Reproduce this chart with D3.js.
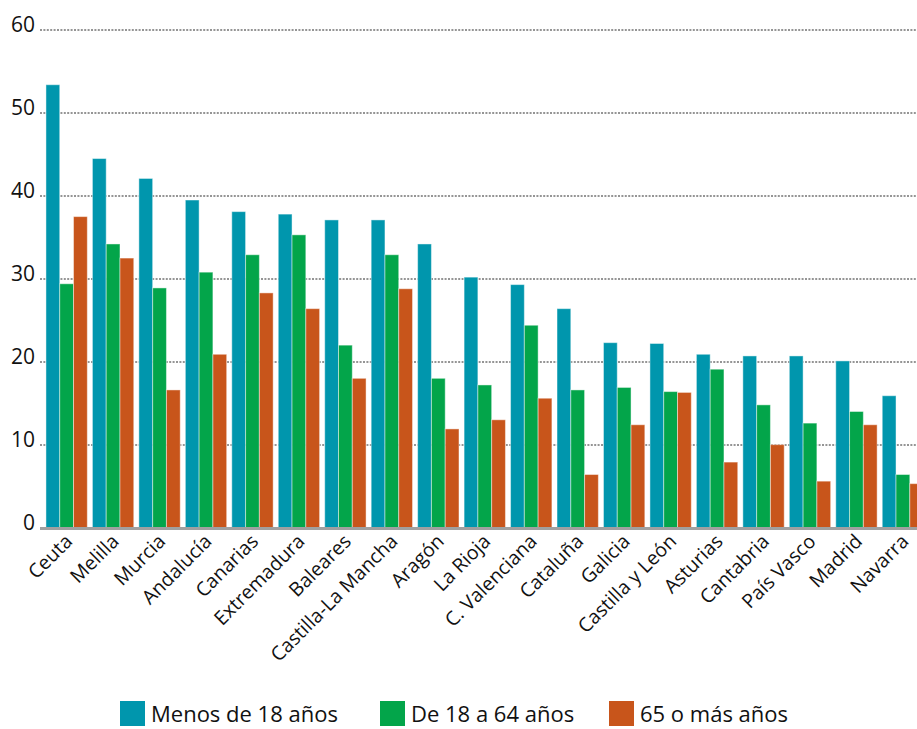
<!DOCTYPE html>
<html>
<head>
<meta charset="utf-8">
<script src="https://cdn.jsdelivr.net/npm/d3@7"></script>
<style>
  body { margin: 0; background: #fff; overflow: hidden; }
  text { font-family: "Open Sans", "Noto Sans", sans-serif; fill: #111; }
</style>
</head>
<body>
<div id="chart"></div>
<script>
const width = 917;
const height = 729;

// Data
const regions = ["Ceuta", "Melilla", "Murcia", "Andalucía", "Canarias", "Extremadura", "Baleares",
  "Castilla-La Mancha", "Aragón", "La Rioja", "C. Valenciana", "Cataluña", "Galicia",
  "Castilla y León", "Asturias", "Cantabria", "País Vasco", "Madrid", "Navarra"];
const seriesNames = ["Menos de 18 años", "De 18 a 64 años", "65 o más años"];
const menos18 = [53.4, 44.5, 42.1, 39.5, 38.1, 37.8, 37.1, 37.1, 34.2, 30.2, 29.3, 26.4, 22.3, 22.2, 20.9, 20.7, 20.7, 20.1, 15.9];
const de18a64 = [29.4, 34.2, 28.9, 30.8, 32.9, 35.3, 22.0, 32.9, 18.0, 17.2, 24.4, 16.6, 16.9, 16.4, 19.1, 14.8, 12.6, 14.0, 6.4];
const mas65 = [37.5, 32.5, 16.6, 20.9, 28.3, 26.4, 18.0, 28.8, 11.9, 13.0, 15.6, 6.4, 12.4, 16.3, 7.9, 10.0, 5.6, 12.4, 5.3];
const yTicks = [0, 10, 20, 30, 40, 50, 60];
const colors = ["#0096ad", "#03a54a", "#c8551b"];

const series = [menos18, de18a64, mas65];

const svg = d3.select("#chart").append("svg").attr("width", width).attr("height", height);

// scales
const x0 = d3.scaleBand()
  .domain(regions)
  .range([43.4, 43.4 + 19 * 46.46])
  .paddingInner(0.11)
  .paddingOuter(0.055);

const x1 = d3.scaleBand()
  .domain(d3.range(series.length))
  .range([0, x0.bandwidth()]);

const y = d3.scaleLinear().domain([0, 60]).range([527.6, 30]);

// gridlines (dotted)
svg.append("g")
  .selectAll("line")
  .data(yTicks.filter((d) => d > 0))
  .enter()
  .append("line")
  .attr("x1", 40)
  .attr("x2", width)
  .attr("y1", (d) => Math.round(y(d)))
  .attr("y2", (d) => Math.round(y(d)))
  .attr("stroke", "#959595")
  .attr("stroke-width", 2)
  .attr("stroke-dasharray", "2,1.4");

// y tick labels
svg.append("g")
  .selectAll("text")
  .data(yTicks)
  .enter()
  .append("text")
  .attr("x", 35)
  .attr("y", (d) => y(d))
  .attr("dy", "0.1em")
  .attr("text-anchor", "end")
  .style("font-size", "21px")
  .text((d) => d);

// bars
const groups = svg.append("g")
  .selectAll("g")
  .data(regions)
  .enter()
  .append("g")
  .attr("transform", (d) => `translate(${x0(d)},0)`);

groups.selectAll("rect")
  .data((d, i) => series.map((s, k) => ({ k: k, v: s[i] })))
  .enter()
  .append("rect")
  .attr("x", (d) => x1(d.k))
  .attr("width", x1.bandwidth())
  .attr("y", (d) => y(d.v))
  .attr("height", (d) => y(0) - y(d.v))
  .attr("fill", (d) => colors[d.k])
  .attr("stroke", "rgba(255,255,255,0.45)")
  .attr("stroke-width", 1);

// baseline
svg.append("line")
  .attr("x1", 40)
  .attr("x2", width)
  .attr("y1", y(0) + 1)
  .attr("y2", y(0) + 1)
  .attr("stroke", "#a0a0a0")
  .attr("stroke-width", 3);

// x labels, rotated
svg.append("g")
  .selectAll("text")
  .data(regions)
  .enter()
  .append("text")
  .attr("text-anchor", "end")
  .attr("transform", (d) => `translate(${x0(d) + x0.bandwidth() / 2 + 7},${y(0) + 15}) rotate(-45)`)
  .style("font-size", "19.5px")
  .text((d) => d);

// legend
const legendX = [120, 380, 609];
const legend = svg.append("g")
  .selectAll("g")
  .data(seriesNames)
  .enter()
  .append("g")
  .attr("transform", (d, i) => `translate(${legendX[i]},701)`);

legend.append("rect")
  .attr("width", 25)
  .attr("height", 25)
  .attr("fill", (d, i) => colors[i]);

legend.append("text")
  .attr("x", 31)
  .attr("y", 20.5)
  .style("font-size", "22px")
  .text((d) => d);
</script>
</body>
</html>
